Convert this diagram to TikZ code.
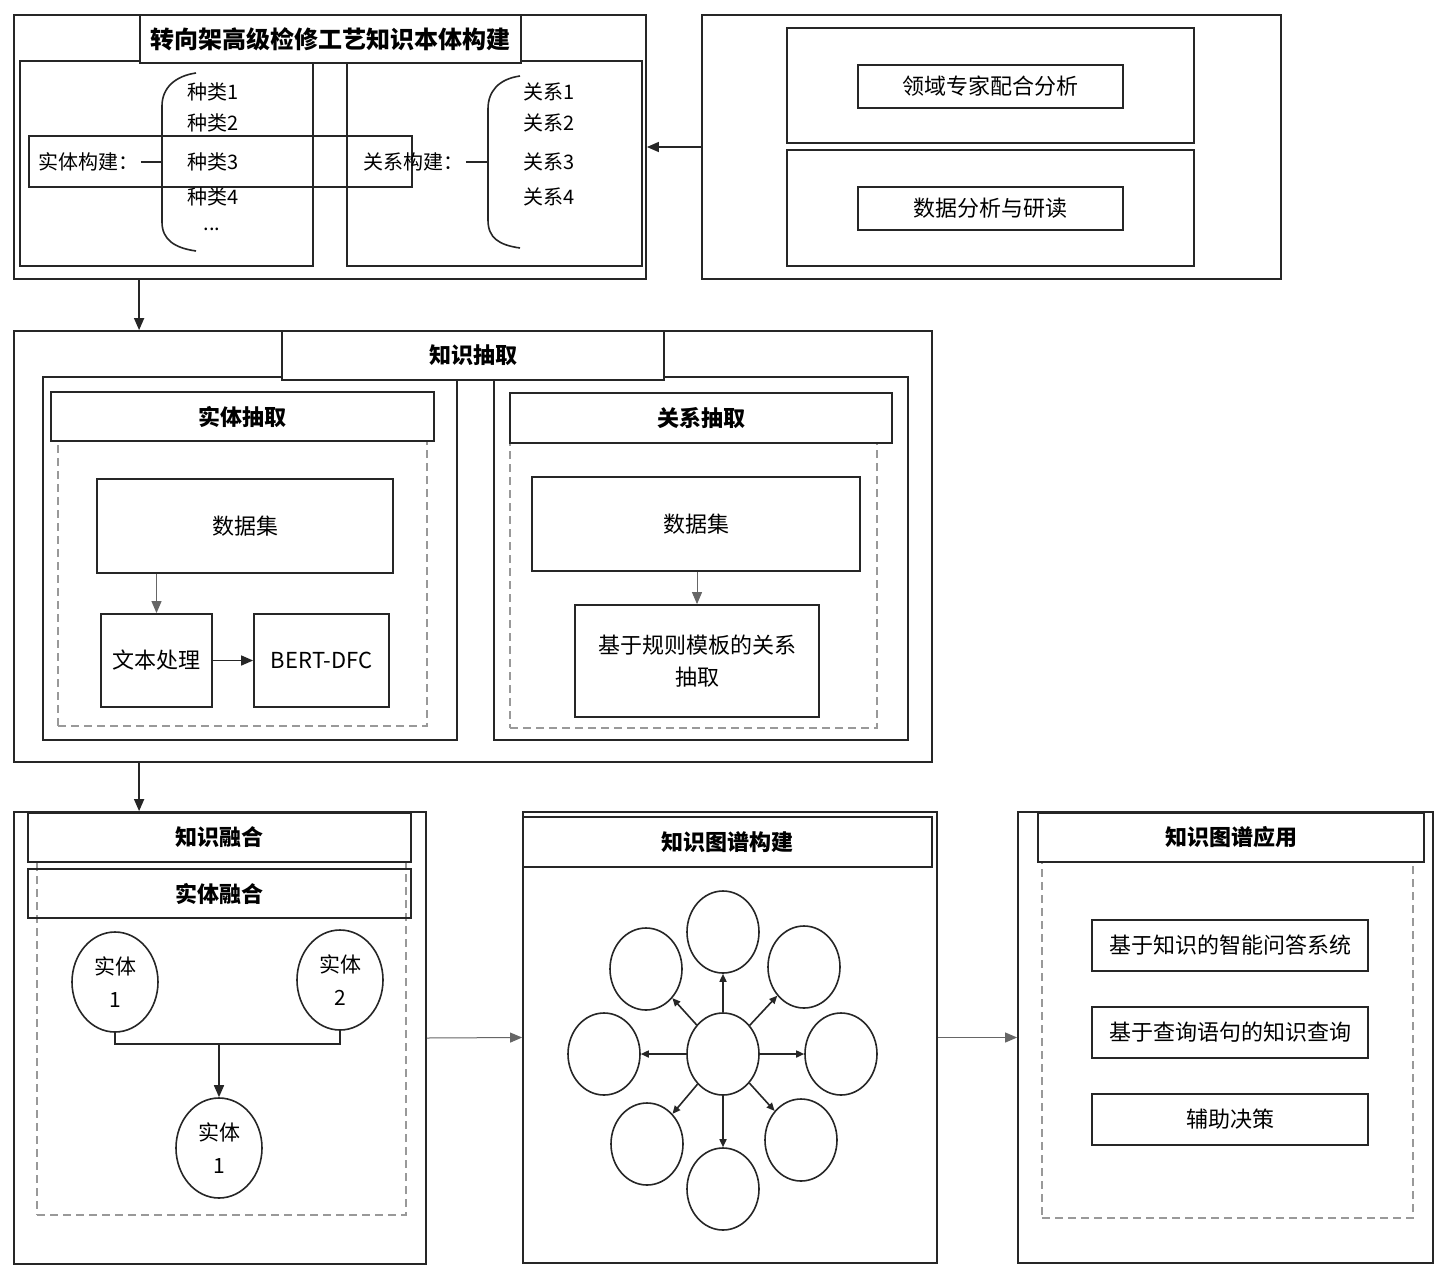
\documentclass[tikz,border=0pt]{standalone}
\usepackage{fontspec}
\setmainfont{Noto Sans CJK SC}
\usetikzlibrary{arrows.meta,shapes.geometric,fit}
\begin{document}
\begin{tikzpicture}[x=0.5pt,y=-0.5pt,
  box/.style={draw=black!85,line width=0.9pt,inner sep=0pt,rectangle},
  dbox/.style={draw=black!40,dashed,dash pattern=on 4pt off 2.5pt,line width=0.8pt,inner sep=0pt,rectangle},
  hfont/.style={font=\bfseries\fontsize{11}{13}\selectfont,inner sep=0pt},
  bfont/.style={font=\fontsize{11}{16}\selectfont,inner sep=0pt,align=center},
  hdr/.style={box,fill=white,label={[hfont]center:#1}},
  hdrnf/.style={box,label={[hfont]center:#1}},
  tbox/.style={box,label={[bfont]center:#1}},
  txt/.style={inner sep=1pt,font=\fontsize{10}{12}\selectfont},
  brk/.style={draw=black!85,line width=0.8pt},
  conn/.style={draw=black!85,line width=0.8pt},
  arr/.style={draw=black!85,line width=0.8pt,-{Triangle[length=6pt,width=5pt]}},
  thinarr/.style={draw=black!60,line width=0.5pt,-{Triangle[length=6pt,width=5pt]}},
  garr/.style={draw=black!85,line width=0.8pt,-{Triangle[length=4pt,width=3.5pt]}},
  ent/.style={ellipse,draw=black!85,line width=0.8pt,inner sep=0pt,minimum width=43pt,minimum height=50pt,align=center,font=\fontsize{10.5}{16.5}\selectfont},
  gnode/.style={ellipse,draw=black!85,line width=0.8pt,inner sep=0pt,minimum width=36pt,minimum height=41pt}
]
\useasboundingbox (0,0) rectangle (1445,1279);
\fill[white] (0,0) rectangle (1445,1279);

% ---------- top left: ontology construction ----------
\node[box,fit={(14,15) (646,279)}] (topL) {};
\node[box,fit={(20,61) (313,266)}] (entB) {};
\node[box,fit={(347,61) (642,266)}] (relB) {};
\node[box,fill=white,label={[font=\bfseries\fontsize{12}{14}\selectfont,inner sep=0pt]center:转向架高级检修工艺知识本体构建},fit={(140,15) (521,63)}] (title) {};
\node[box,fit={(29,136) (412,187)}] (band) {};

\node[txt,anchor=west] (lblE) at (36,162) {实体构建：};
\coordinate (bE) at (162,162);
\draw[conn] (lblE.east) -- (bE);
\draw[brk] (196,73) .. controls (175,76) and (162,88) .. (162,106) -- (162,222) .. controls (162,240) and (175,248) .. (196,251);
\node[txt] (t1) at (213,92) {种类1};
\node[txt] (t2) at (213,123) {种类2};
\node[txt] (t3) at (213,162) {种类3};
\node[txt] (t4) at (213,197) {种类4};
\node[txt] (t5) at (212,229) {...};

\node[txt,anchor=west] (lblR) at (361,162) {关系构建：};
\coordinate (bR) at (488,162);
\draw[conn] (lblR.east) -- (bR);
\draw[brk] (520,76) .. controls (499,79) and (488,91) .. (488,109) -- (488,220) .. controls (488,238) and (499,245) .. (520,248);
\node[txt] (r1) at (549,92) {关系1};
\node[txt] (r2) at (549,123) {关系2};
\node[txt] (r3) at (549,162) {关系3};
\node[txt] (r4) at (549,197) {关系4};

% ---------- top right ----------
\node[box,fit={(702,15) (1281,279)}] (topR) {};
\node[box,fit={(787,28) (1194,143)}] (exB) {};
\node[box,fit={(787,150) (1194,266)}] (daB) {};
\node[tbox={领域专家配合分析},fit={(858,65) (1123,108)}] (ex) {};
\node[tbox={数据分析与研读},fit={(858,187) (1123,230)}] (da) {};
\draw[arr] (topR.west) -- (topR.west -| topL.east);

% ---------- middle: knowledge extraction ----------
\node[box,fit={(14,331) (932,762)}] (mid) {};
\draw[arr] (title.west |- topL.south) -- (title.west |- mid.north);

\node[box,fit={(43,377) (457,740)}] (eeB) {};
\node[dbox,fit={(58,441) (427,726)}] (eeD) {};
\node[hdr={实体抽取},fit={(51,392) (434,441)}] (eeH) {};
\node[tbox={数据集},fit={(97,479) (393,573)}] (ds1) {};
\node[tbox={文本处理},fit={(101,614) (212,707)}] (tp) {};
\node[tbox={BERT-DFC},fit={(254,614) (389,707)}] (bert) {};
\draw[thinarr] (ds1.south -| tp.north) -- (tp.north);
\draw[arr] (tp.east) -- (bert.west);

\node[box,fit={(494,377) (908,740)}] (reB) {};
\node[dbox,fit={(510,443) (877,728)}] (reD) {};
\node[hdr={关系抽取},fit={(510,393) (892,443)}] (reH) {};
\node[tbox={数据集},fit={(532,477) (860,571)}] (ds2) {};
\node[tbox={基于规则模板的关系\\抽取},fit={(575,605) (819,717)}] (rule) {};
\draw[thinarr] (ds2.south -| rule.north) -- (rule.north);

\node[hdr={知识抽取},fit={(282,331) (664,380)}] (midH) {};

% ---------- bottom left: knowledge fusion ----------
\node[box,fit={(14,812) (426,1264)}] (fuse) {};
\draw[arr] (title.west |- mid.south) -- (title.west |- fuse.north);
\node[dbox,fit={(37,862) (406,1215)}] (fuD) {};
\node[hdr={知识融合},fit={(28,813) (411,862)}] (fuH) {};
\node[hdrnf={实体融合},fit={(28,869) (411,918)}] (efH) {};
\node[ent] (e1) at (115,982) {实体\\1};
\node[ent] (e2) at (340,980) {实体\\2};
\node[ent] (e3) at (219,1148) {实体\\1};
\coordinate (jn) at (219,1043);
\draw[conn] (e1.south) -- ++(0,11) -| (e2.south);
\draw[arr] (jn) -- (e3.north);

% ---------- bottom middle: graph construction ----------
\node[box,fit={(523,812) (937,1263)}] (kg) {};
\node[hdr={知识图谱构建},fit={(523,817) (932,867)}] (kgH) {};
\node[gnode] (g0) at (723,1054) {};
\node[gnode] (g1) at (723,932) {};
\node[gnode] (g2) at (804,967) {};
\node[gnode] (g3) at (841,1054) {};
\node[gnode] (g4) at (801,1140) {};
\node[gnode] (g5) at (723,1189) {};
\node[gnode] (g6) at (647,1144) {};
\node[gnode] (g7) at (604,1054) {};
\node[gnode] (g8) at (646,969) {};
\foreach \g in {g1,g2,g3,g4,g5,g6,g7,g8} \draw[garr] (g0) -- (\g);
\draw[thinarr] (fuse.east) -- (kg.west);

% ---------- bottom right: application ----------
\node[box,fit={(1018,812) (1433,1263)}] (app) {};
\node[dbox,fit={(1042,862) (1413,1218)}] (apD) {};
\node[hdr={知识图谱应用},fit={(1038,813) (1424,862)}] (apH) {};
\node[tbox={基于知识的智能问答系统},fit={(1092,920) (1368,971)}] (qa) {};
\node[tbox={基于查询语句的知识查询},fit={(1092,1007) (1368,1058)}] (qq) {};
\node[tbox={辅助决策},fit={(1092,1094) (1368,1145)}] (dec) {};
\draw[thinarr] (kg.east) -- (app.west);
\end{tikzpicture}
\end{document}
